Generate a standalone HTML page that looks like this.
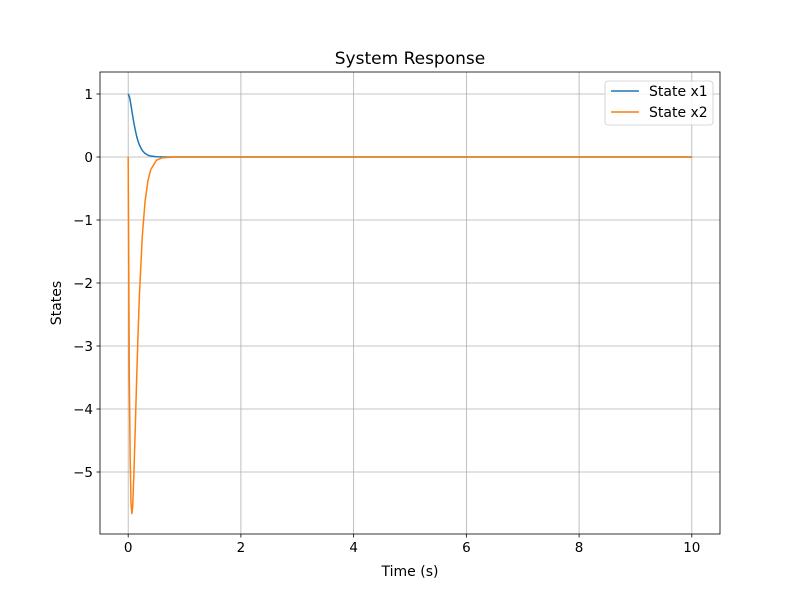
<!DOCTYPE html>
<html><head><meta charset="utf-8"><style>
body{margin:0;background:#fff;}
svg{display:block;font-family:"DejaVu Sans","Liberation Sans",sans-serif;}
</style></head><body>
<svg id="chart" width="800" height="600"></svg>
<script>
const times=[0,0.02,0.035,0.05,0.065,0.08,0.1,0.125,0.15,0.175,0.2,0.25,0.3,0.35,0.4,0.5,0.6,0.8,1.0,1.5,2,3,4,5,6,7,8,9,10];
const x1Values=[1,0.961,0.90,0.820,0.736,0.652,0.545,0.43,0.329,0.25,0.188,0.103,0.055,0.029,0.0151,0.0039,0.001,0,0,0,0,0,0,0,0,0,0,0,0];
const x2Values=[0,-3.48,-4.78,-5.49,-5.66,-5.54,-5.07,-4.32,-3.53,-2.81,-2.18,-1.26,-0.70,-0.38,-0.20,-0.053,-0.014,-0.001,0,0,0,0,0,0,0,0,0,0,0];
const xTicks=[0,2,4,6,8,10];
const yTicks=[1,0,-1,-2,-3,-4,-5];
const seriesNames=["State x1","State x2"];

const L=100,R=720,T=72,B=534;
const xMin=-0.5,xMax=10.5,yMin=-5.984,yMax=1.349;
const sx=v=>L+(v-xMin)/(xMax-xMin)*(R-L);
const sy=v=>B-(v-yMin)/(yMax-yMin)*(B-T);
const NS="http://www.w3.org/2000/svg";
const svg=document.getElementById('chart');
function mk(tag,attrs,parent){const e=document.createElementNS(NS,tag);for(const k in attrs)e.setAttribute(k,attrs[k]);(parent||svg).appendChild(e);return e;}

const grid=mk('g',{});


xTicks.forEach(v=>{const l=mk('line',{x1:sx(v),x2:sx(v),y1:T,y2:B,stroke:'#b0b0b0','stroke-width':0.8},grid);

});
yTicks.forEach(v=>{const l=mk('line',{x1:L,x2:R,y1:sy(v),y2:sy(v),stroke:'#b0b0b0','stroke-width':0.8},grid);

});

const colors=['#1f77b4','#ff7f0e'];
[x1Values,x2Values].forEach((vals,i)=>{
  const d=times.map((t,j)=>(j?'L':'M')+sx(t).toFixed(2)+','+sy(vals[j]).toFixed(2)).join(' ');
  const p=mk('path',{d:d,fill:'none',stroke:colors[i],'stroke-width':1.5,'stroke-linejoin':'round'});
  
  
});

const frame=mk('rect',{x:L,y:T,width:R-L,height:B-T,fill:'none',stroke:'#000','stroke-width':0.8});



xTicks.forEach(v=>{
  mk('line',{x1:sx(v),x2:sx(v),y1:B,y2:B+3.5,stroke:'#000','stroke-width':0.8});
  const t=mk('text',{x:sx(v),y:B+18,'text-anchor':'middle','font-size':13.5});t.textContent=v;
  
  
});
yTicks.forEach(v=>{
  mk('line',{x1:L-3.5,x2:L,y1:sy(v),y2:sy(v),stroke:'#000','stroke-width':0.8});
  const t=mk('text',{x:L-7,y:sy(v)+5,'text-anchor':'end','font-size':13.5});t.textContent=v<0?'\u2212'+(-v):v;
  
  
});

const title=mk('text',{x:(L+R)/2,y:64,'text-anchor':'middle','font-size':17});title.textContent='System Response';


const xl=mk('text',{x:(L+R)/2,y:576,'text-anchor':'middle','font-size':14});xl.textContent='Time (s)';


const yl=mk('text',{x:61,y:(T+B)/2,'text-anchor':'middle','font-size':14,transform:'rotate(-90 61 '+(T+B)/2+')'});yl.textContent='States';



const leg=mk('g',{});


mk('rect',{x:605,y:81,width:108,height:44,rx:3,fill:'#fff','fill-opacity':0.8,stroke:'#cccccc','stroke-width':0.8},leg);
seriesNames.forEach((n,i)=>{
  const y=91+i*21;
  mk('line',{x1:611,x2:639,y1:y,y2:y,stroke:colors[i],'stroke-width':1.5},leg);
  const t=mk('text',{x:649,y:y+5,'font-size':14},leg);t.textContent=n;
  
  
});
</script>
</body></html>
